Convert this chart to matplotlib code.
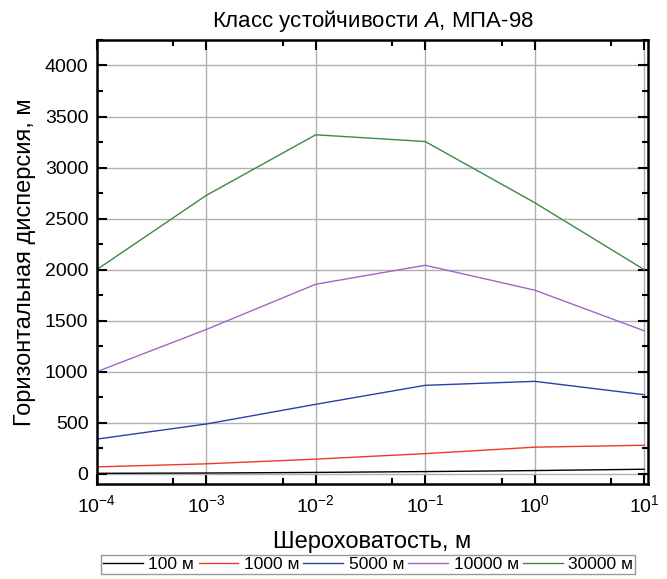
import matplotlib
matplotlib.use("Agg")
import matplotlib.pyplot as plt
from matplotlib.ticker import LogLocator, MultipleLocator, NullFormatter

plt.rcParams["font.family"] = ["Liberation Sans", "DejaVu Sans"]
plt.rcParams["mathtext.fontset"] = "custom"
plt.rcParams["mathtext.rm"] = "Liberation Sans"
plt.rcParams["mathtext.it"] = "Liberation Sans:italic"

# roughness length, m
roughness = [1e-4, 1e-3, 1e-2, 1e-1, 1e0, 1e1]

# horizontal dispersion (m) at each downwind distance
sigma_100 = [5, 8, 14, 22, 32, 45]
sigma_1000 = [68, 98, 144, 198, 261, 280]
sigma_5000 = [340, 488, 681, 867, 906, 775]
sigma_10000 = [1000, 1414, 1857, 2043, 1799, 1401]
sigma_30000 = [2000, 2727, 3321, 3255, 2656, 2000]

series_labels = ["100 м", "1000 м", "5000 м", "10000 м", "30000 м"]
series_colors = ["#000000", "#f0382a", "#2b3fa6", "#a066c8", "#3a8a45"]

fig = plt.figure(figsize=(6.67, 5.79), dpi=100)
ax = fig.add_axes([0.145, 0.164, 0.827, 0.767])

all_series = [sigma_100, sigma_1000, sigma_5000, sigma_10000, sigma_30000]
for vals, lab, col in zip(all_series, series_labels, series_colors):
    ax.plot(roughness, vals, color=col, lw=1.0, label=lab)

ax.set_xscale("log")
ax.set_xlim(1e-4, 10.9)
ax.set_ylim(-100, 4250)
ax.xaxis.set_major_locator(LogLocator(base=10, numticks=10))
ax.xaxis.set_minor_locator(LogLocator(base=10, subs=[5.0], numticks=10))
ax.xaxis.set_minor_formatter(NullFormatter())
ax.yaxis.set_major_locator(MultipleLocator(500))
ax.yaxis.set_minor_locator(MultipleLocator(250))

ax.grid(True, which="major", color="#b0b0b0", lw=1.0)
ax.tick_params(which="both", direction="in", top=True, right=True,
               width=1.5, labelsize=14)
ax.tick_params(which="major", length=7)
ax.tick_params(which="minor", length=4)
ax.tick_params(axis="x", pad=7)
ax.tick_params(axis="y", pad=6)
for sp in ax.spines.values():
    sp.set_linewidth(1.8)

ax.set_title("Класс устойчивости $\\mathit{A}$, МПА-98", fontsize=16, pad=9)
ax.set_xlabel("Шероховатость, м", fontsize=17, labelpad=11)
ax.set_ylabel("Горизонтальная дисперсия, м", fontsize=17, labelpad=6)

fig.legend(loc="upper center", bbox_to_anchor=(0.552, 0.041), ncol=5,
           fontsize=12.5, frameon=True, fancybox=False, edgecolor="#808080",
           handlelength=2.3, handletextpad=0.3, columnspacing=0.25,
           borderpad=0.1, borderaxespad=0)

fig.savefig("out.png", dpi=100)
